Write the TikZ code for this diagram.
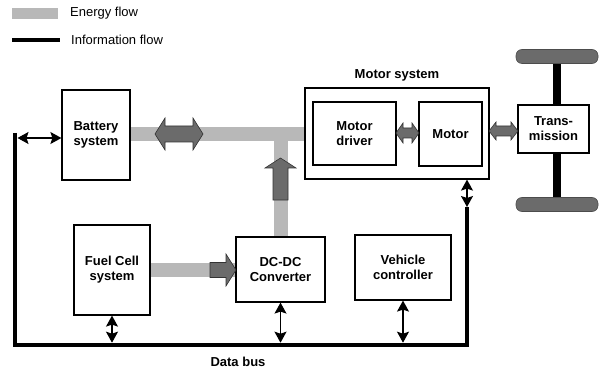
\documentclass[tikz,border=0pt]{standalone}
\usepackage{fontspec}
\setmainfont{Liberation Sans}
\usetikzlibrary{arrows.meta,calc}
\newcommand\labfont{\fontsize{13}{15}\selectfont\bfseries}
\newcommand\legfont{\fontsize{13}{15}\selectfont}
\definecolor{energy}{gray}{0.72}
\definecolor{energydark}{gray}{0.42}
\tikzset{
  box/.style={draw, line width=1.2pt, fill=white, align=center, font=\labfont, inner sep=0pt},
  band/.style={draw=energy, line width=14pt},
  darkarrow/.style={fill=energydark, draw=black!80, line width=0.6pt},
  wheel/.style={fill=energydark, draw=black!70, line width=0.6pt, rounded corners=6pt, minimum width=82, minimum height=14, inner sep=0pt},
  info/.style={line width=1.3pt, {Stealth[length=11pt,width=12pt,inset=2pt]}-{Stealth[length=11pt,width=12pt,inset=2pt]}},
  bus/.style={line width=4.5pt, line join=miter},
  lab/.style={font=\labfont, inner sep=0pt},
  leg/.style={font=\legfont, anchor=west, inner sep=0pt}
}
\begin{document}
\begin{tikzpicture}[x=1pt,y=1pt]
\useasboundingbox (0,0) rectangle (599,-374);
% legend
\fill[energy] (12,-8) rectangle (58,-19);
\node[leg] (legE) at (70,-13) {Energy flow};
\draw[line width=4.5pt] (12,-40) -- (60,-40);
\node[leg] (legI) at (71,-39.5) {Information flow};

% energy bands (behind boxes)
\coordinate (j) at (280.5,-127);
\draw[band] (130,-134) -- (305,-134);
\draw[band] (j) -- (280.5,-237);
\draw[band] (150,-270) -- (236,-270);

% boxes
\node[box, minimum width=68, minimum height=90] (bat) at (96,-135) {Battery\\system};
\node[box, minimum width=76, minimum height=90] (fc) at (112,-270) {Fuel Cell\\system};
\node[box, minimum width=89, minimum height=65] (dcdc) at (280.5,-269.5) {DC-DC\\Converter};
\node[box, minimum width=96, minimum height=65] (vc) at (403,-267.5) {Vehicle\\controller};
\node[box, minimum width=184, minimum height=91] (ms) at (397,-133.5) {};
\node[lab] (msl) at (397,-75) {Motor system};
\node[box, minimum width=83, minimum height=63] (md) at (354.5,-133.5) {Motor\\driver};
\node[box, minimum width=63, minimum height=64] (mot) at (450.5,-134) {Motor};

% transmission and wheels
\node[wheel] (wt) at (557,-56.5) {};
\node[wheel] (wb) at (557,-204.5) {};
\node[box, minimum width=71, minimum height=48] (tr) at (553.5,-129) {Trans-\\mission};
\draw[line width=8pt] (wt.south) -- (wt.south |- tr.north);
\draw[line width=8pt] (wb.north) -- (wb.north |- tr.south);

% dark energy arrows
\draw[darkarrow] (155,-134) -- (165,-118) -- (165,-126) -- (193,-126) -- (193,-118) -- (203,-134)
  -- (193,-150) -- (193,-142) -- (165,-142) -- (165,-150) -- cycle;
\draw[darkarrow] (280.5,-158) -- (296,-168) -- (288,-168) -- (288,-200) -- (273,-200) -- (273,-168) -- (265,-168) -- cycle;
\draw[darkarrow] (210,-262.5) -- (226,-262.5) -- (226,-254) -- (236,-270) -- (226,-286) -- (226,-277.5) -- (210,-277.5) -- cycle;
\draw[darkarrow] (396,-133) -- (403,-123) -- (403,-128) -- (412,-128) -- (412,-123) -- (419,-133)
  -- (412,-143) -- (412,-138) -- (403,-138) -- (403,-143) -- cycle;
\draw[darkarrow] (489,-131) -- (496,-122) -- (496,-126) -- (511,-126) -- (511,-122) -- (518,-131)
  -- (511,-140) -- (511,-136) -- (496,-136) -- (496,-140) -- cycle;

% data bus
\coordinate (btop) at (15,-133);
\coordinate (bbl) at (15,-345);
\coordinate (bbr) at (467,-345);
\coordinate (bmot) at (467,-207);
\draw[bus] (btop) -- (bbl) -- (bbr) -- (bmot);
\node[lab] (dbl) at (238,-362) {Data bus};

% information arrows
\coordinate (batbus) at (17.5,-138);
\draw[info] (batbus) -- (batbus -| bat.west);
\draw[info] (fc.south) -- (fc.south |- 0,-342.7);
\draw[info] (dcdc.south) -- (dcdc.south |- 0,-342.7);
\draw[info] (vc.south) -- (vc.south |- 0,-342.7);
\draw[info] (bmot) -- (bmot |- ms.south);
\end{tikzpicture}
\end{document}
